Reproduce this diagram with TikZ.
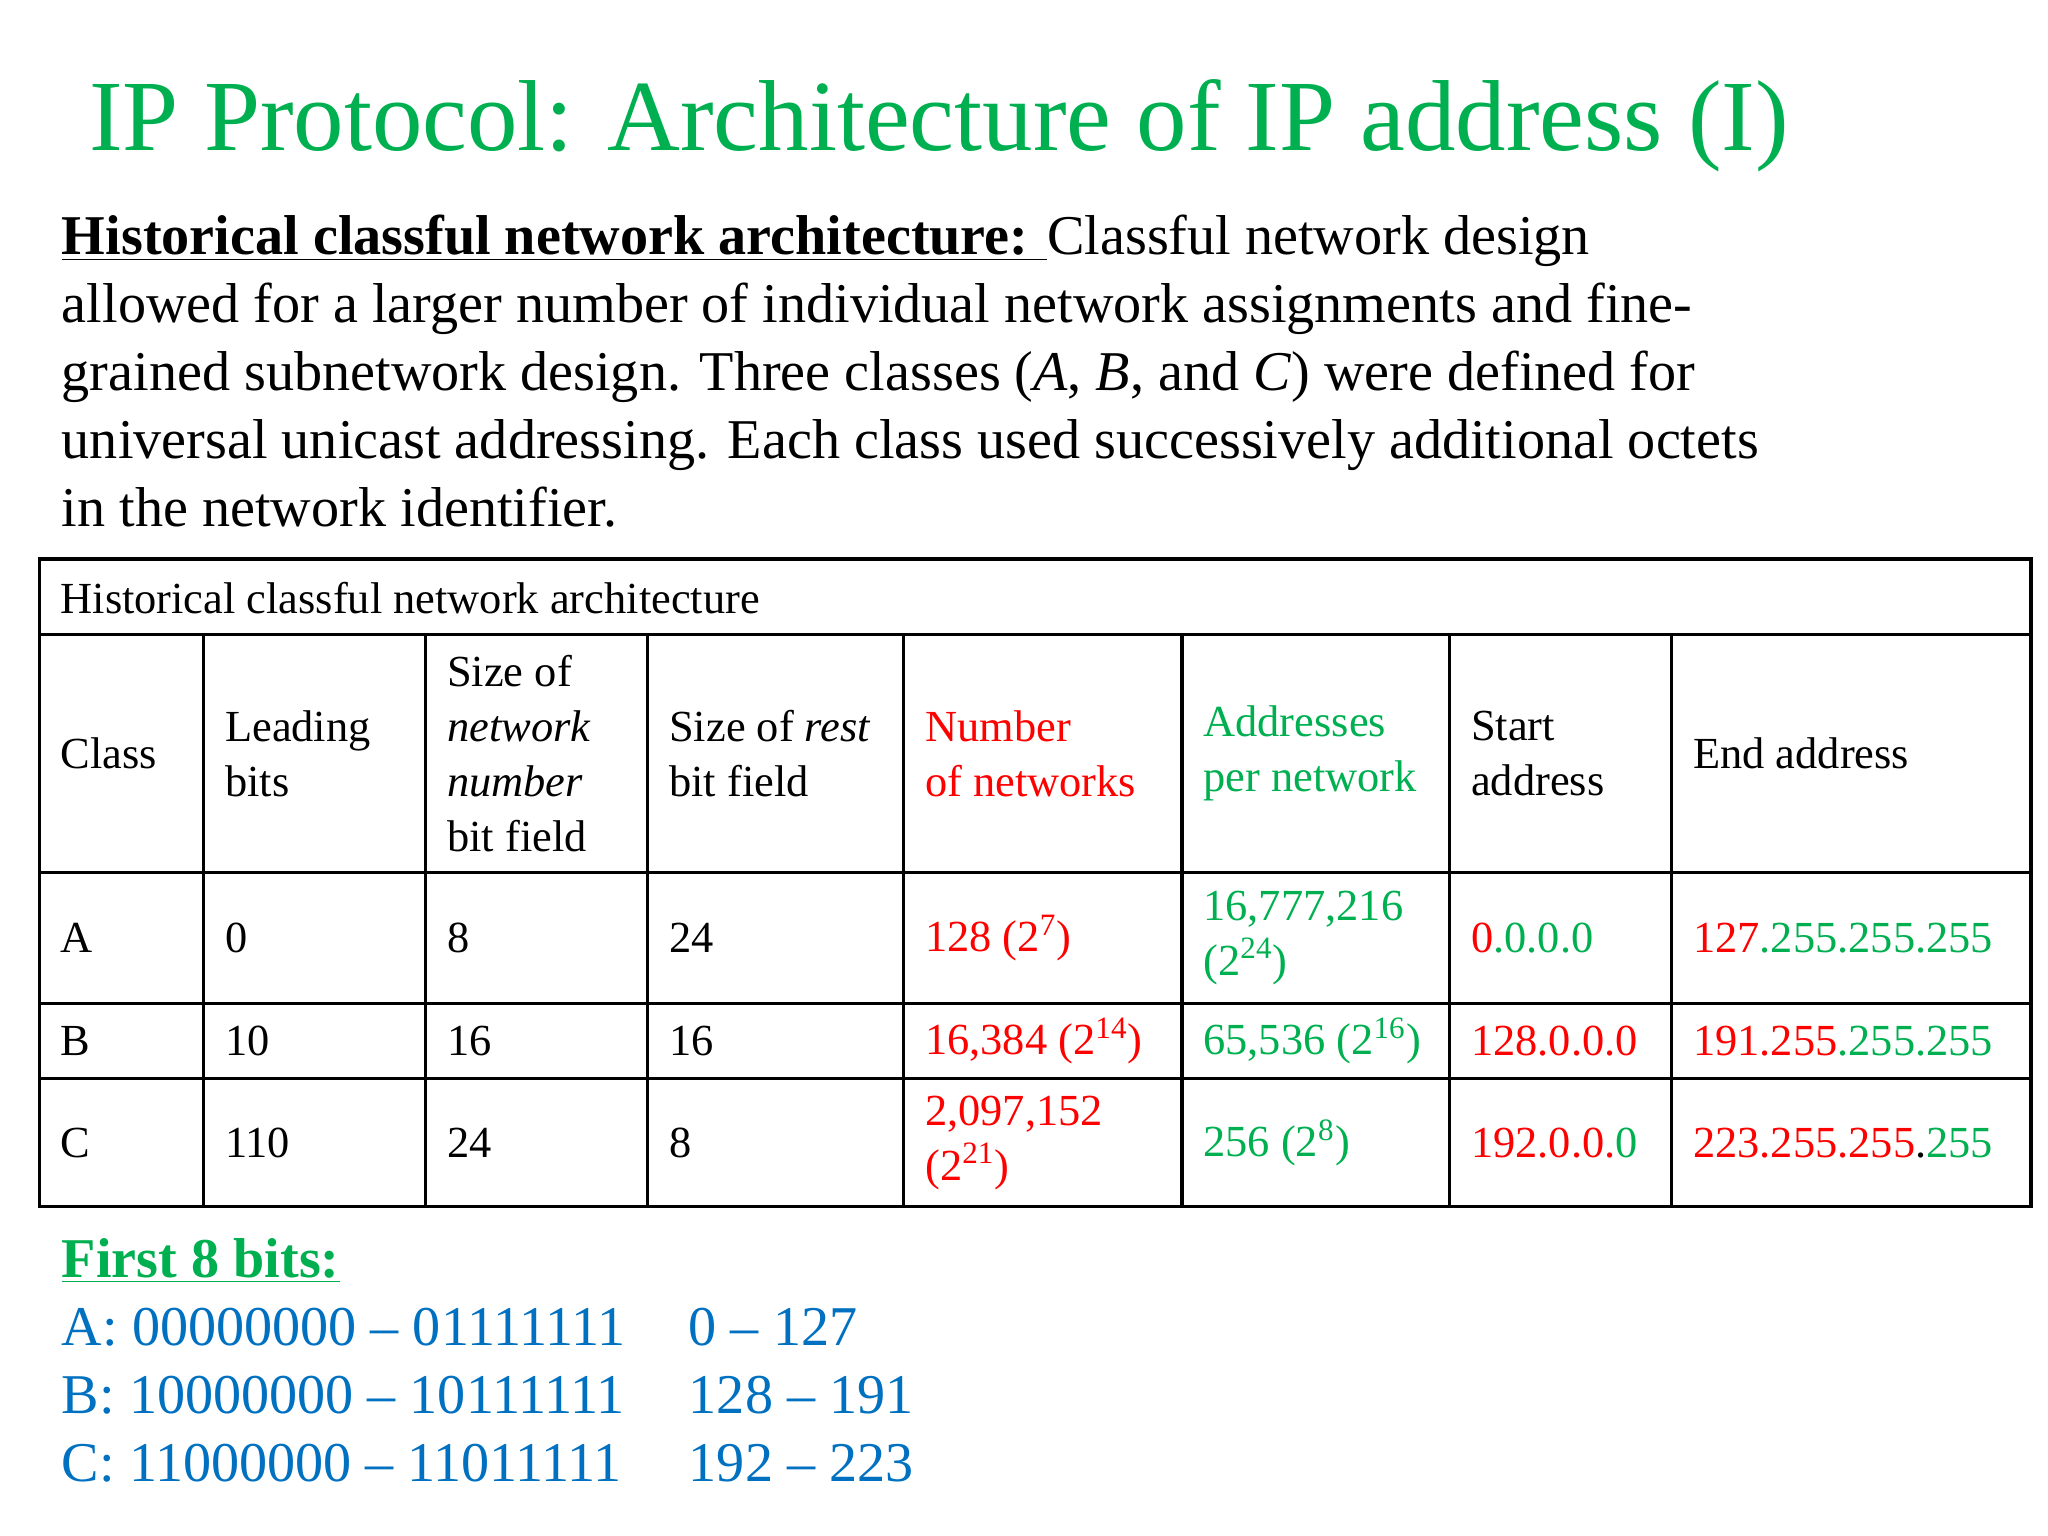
\documentclass[tikz,border=0pt]{standalone}
\usepackage{fontspec}
\setmainfont{Liberation Serif}
\definecolor{tg}{RGB}{0,176,80}
\definecolor{tr}{RGB}{255,0,0}
\definecolor{tb}{RGB}{0,112,192}
\begin{document}
\begin{tikzpicture}[x=0.5pt,y=-0.5pt,
 body/.style={anchor=base west,inner sep=0,font=\fontsize{21.5}{26}\selectfont},
 cell/.style={anchor=west,inner sep=0,align=left,font=\fontsize{17}{21}\selectfont},
 grid/.style={line width=1.2pt}]
\useasboundingbox (0,0) rectangle (1568,1176);
\node[anchor=base west,inner sep=0,text=tg,font=\fontsize{38.6}{46}\selectfont] (title) at (68,115) {IP Protocol: Architecture of IP address (I)};
\node[body] (p1) at (47,195) {\textbf{\underline{Historical classful network architecture: }}Classful network design};
\node[body] (p2) at (47,247) {allowed for a larger number of individual network assignments and fine-};
\node[body] (p3) at (47,299) {grained subnetwork design. Three classes (\textit{A}, \textit{B}, and \textit{C}) were defined for};
\node[body] (p4) at (47,351) {universal unicast addressing. Each class used successively additional octets};
\node[body] (p5) at (47,403) {in the network identifier.};
% table grid
\draw[grid] (30,428) rectangle (1555,924);
\foreach \y in {486,668,768,826} \draw[grid] (30,\y) -- (1555,\y);
\foreach \x in {156,326,496,692,905,1110,1280} \draw[grid] (\x,486) -- (\x,924);
\node[cell] (cap) at (46,458) {Historical classful network architecture};
% header
\node[cell] (h1) at (46,577) {Class};
\node[cell] (h2) at (172,577) {Leading\\bits};
\node[cell] (h3) at (342,577) {Size of\\\textit{network}\\\textit{number}\\bit field};
\node[cell] (h4) at (512,577) {Size of \textit{rest}\\bit field};
\node[cell,text=tr] (h5) at (708,577) {Number\\of networks};
\node[cell,text=tg] (h6) at (921,577) {Addresses\\per network};
\node[cell] (h7) at (1126,577) {Start\\address};
\node[cell] (h8) at (1296,577) {End address};
% row A
\node[cell] (a1) at (46,718) {A};
\node[cell] (a2) at (172,718) {0};
\node[cell] (a3) at (342,718) {8};
\node[cell] (a4) at (512,718) {24};
\node[cell,text=tr] (a5) at (708,718) {128 (2\textsuperscript{7})};
\node[cell,text=tg] (a6) at (921,718) {16,777,216\\(2\textsuperscript{24})};
\node[cell] (a7) at (1126,718) {\textcolor{tr}{0}\textcolor{tg}{.0.0.0}};
\node[cell] (a8) at (1296,718) {\textcolor{tr}{127}\textcolor{tg}{.255.255.255}};
% row B
\node[cell] (b1) at (46,797) {B};
\node[cell] (b2) at (172,797) {10};
\node[cell] (b3) at (342,797) {16};
\node[cell] (b4) at (512,797) {16};
\node[cell,text=tr] (b5) at (708,797) {16,384 (2\textsuperscript{14})};
\node[cell,text=tg] (b6) at (921,797) {65,536 (2\textsuperscript{16})};
\node[cell,text=tr] (b7) at (1126,797) {128.0.0.0};
\node[cell] (b8) at (1296,797) {\textcolor{tr}{191.255}\textcolor{tg}{.255.255}};
% row C
\node[cell] (c1) at (46,875) {C};
\node[cell] (c2) at (172,875) {110};
\node[cell] (c3) at (342,875) {24};
\node[cell] (c4) at (512,875) {8};
\node[cell,text=tr] (c5) at (708,875) {2,097,152\\(2\textsuperscript{21})};
\node[cell,text=tg] (c6) at (921,875) {256 (2\textsuperscript{8})};
\node[cell] (c7) at (1126,875) {\textcolor{tr}{192.0.0.}\textcolor{tg}{0}};
\node[cell] (c8) at (1296,875) {\textcolor{tr}{223.255.255}.\textcolor{tg}{255}};
% bottom
\node[body,text=tg] (f0) at (47,978) {\textbf{\underline{First 8 bits:}}};
\node[body,text=tb] (f1) at (47,1030) {A: 00000000 -- 01111111};
\node[body,text=tb] (f2) at (47,1082) {B: 10000000 -- 10111111};
\node[body,text=tb] (f3) at (47,1134) {C: 11000000 -- 11011111};
\node[body,text=tb] (g1) at (527,1030) {0 -- 127};
\node[body,text=tb] (g2) at (527,1082) {128 -- 191};
\node[body,text=tb] (g3) at (527,1134) {192 -- 223};
\end{tikzpicture}
\end{document}
